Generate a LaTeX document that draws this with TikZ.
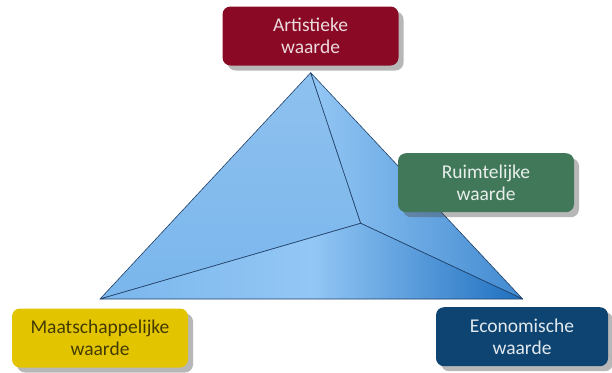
\documentclass[tikz,border=0pt]{standalone}
\usepackage{fontspec}
\setmainfont{Carlito}
\usetikzlibrary{shadows}
\definecolor{artred}{HTML}{8A0A26}
\definecolor{ruimgreen}{HTML}{41785A}
\definecolor{maatyellow}{HTML}{E2C500}
\definecolor{econavy}{HTML}{0E4471}
\definecolor{edgeblue}{HTML}{1F3F66}
\definecolor{faceA}{HTML}{7AB6EC}
\definecolor{faceB}{HTML}{93C7F5}
\definecolor{faceC}{HTML}{1E6FC0}
\tikzset{
  valuebox/.style={rectangle, rounded corners=8pt, minimum width=176pt, minimum height=59pt,
    align=center, font=\fontsize{19.5}{22.5}\selectfont,
    drop shadow={shadow xshift=5pt, shadow yshift=-5pt, opacity=0.4, fill=black!70}},
  face/.style={draw=edgeblue, line width=0.6pt, line join=round}
}
\begin{document}
\begin{tikzpicture}[x=1pt,y=-1pt]
\useasboundingbox (0,0) rectangle (612,372);
\coordinate (A) at (310.7,72.7);
\coordinate (L) at (100,299);
\coordinate (R) at (522.7,299);
\coordinate (I) at (360.7,223.3);
% pyramid faces
\shade[face, shading angle=120, top color=faceA!85!white, bottom color=faceA] (A) -- (L) -- (I) -- cycle;
\shade[face, shading angle=-45, left color=faceB, right color=faceC!70!faceB] (A) -- (I) -- (R) -- cycle;
\shade[face, left color=faceA, right color=faceC, middle color=faceB] (L) -- (I) -- (R) -- cycle;
% boxes
\node[valuebox, fill=artred, text=artred!15!white] (art) at (310.5,36) {Artistieke\\waarde};
\node[valuebox, fill=ruimgreen, text=ruimgreen!12!white] (ruim) at (486,182.7) {Ruimtelijke\\waarde};
\node[valuebox, fill=maatyellow, text=black!70!maatyellow] (maat) at (100,338) {Maatschappelijke\\waarde};
\node[valuebox, fill=econavy, text=econavy!12!white, minimum width=172pt] (eco) at (522,336.7) {Economische\\waarde};
\end{tikzpicture}
\end{document}
